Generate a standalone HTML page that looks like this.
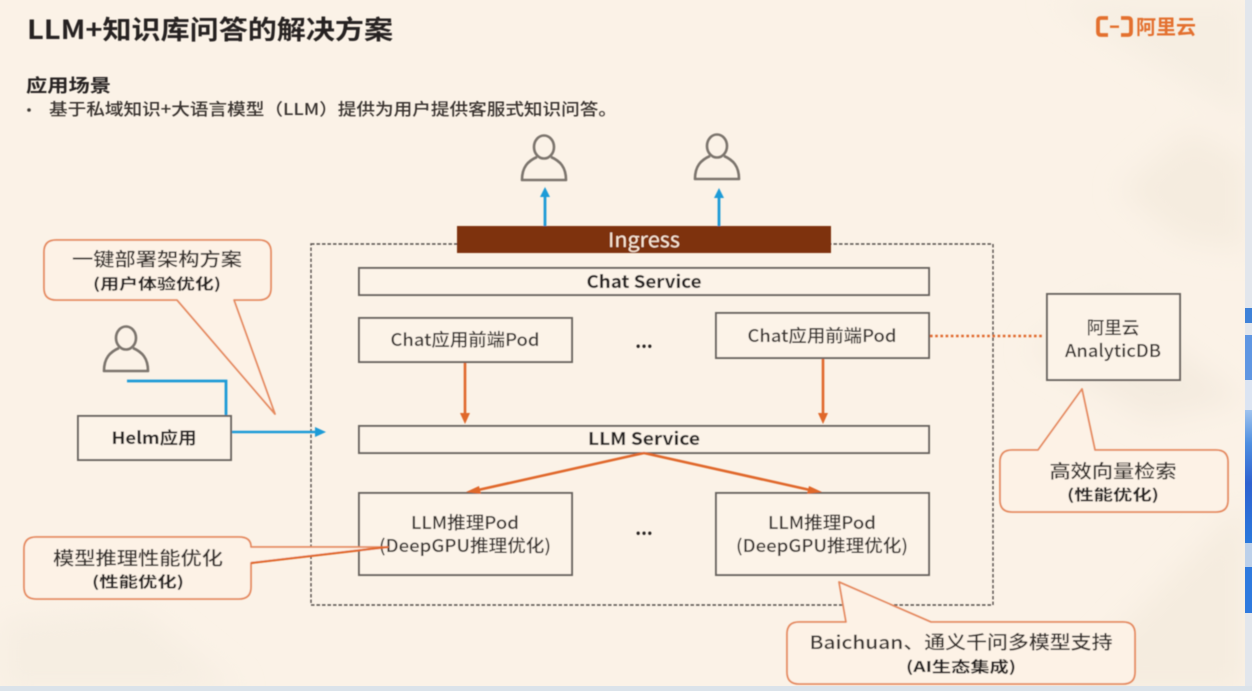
<!DOCTYPE html>
<html lang="zh">
<head>
<meta charset="utf-8">
<style>
html,body{margin:0;padding:0;background:#fbf2e7;width:1252px;height:691px;overflow:hidden}
svg{display:block}
text{font-family:"Noto Sans CJK SC","Liberation Sans",sans-serif;fill:#37332f;font-weight:500}
text.b{font-weight:700;fill:#262320}
.box{fill:#fcf3e8;stroke:#6a6560;stroke-width:2}
.call{fill:#fdf2e6;stroke:#e58a5e;stroke-width:1.8;stroke-linejoin:round}
.p{fill:none;stroke:#7b746d;stroke-width:2.6;stroke-linejoin:round}
</style>
</head>
<body>
<svg width="1252" height="691" viewBox="0 0 1252 691" xmlns="http://www.w3.org/2000/svg">
<defs>
<filter id="s" x="-2%" y="-2%" width="104%" height="104%"><feGaussianBlur stdDeviation="0.45"/></filter>
<filter id="bg" x="-20%" y="-20%" width="140%" height="140%"><feGaussianBlur stdDeviation="14"/></filter>
<linearGradient id="strip" x1="0" y1="0" x2="0" y2="1">
<stop offset="0" stop-color="#9fc3ee"/><stop offset="0.25" stop-color="#4f8fe0"/><stop offset="0.55" stop-color="#2f62d0"/><stop offset="1" stop-color="#2a78dc"/>
</linearGradient>
<g id="person">
<ellipse class="p" cx="0" cy="-21" rx="10" ry="11.5"/>
<path class="p" d="M-7 -11 C-16 -7 -22 -1 -22 12 H22 C22 -1 16 -7 7 -11"/>
</g>
</defs>
<rect width="1252" height="691" fill="#fbf2e7"/>
<g filter="url(#bg)">
<path d="M1120 190 L1190 130 L1246 160 L1246 250 L1180 240Z" fill="#f5ecdf"/>
<path d="M1030 350 L1110 300 L1246 400 L1150 420Z" fill="#f4ebdf"/>
<path d="M1060 691 L1246 500 L1246 691Z" fill="#f5ecdf"/>
<path d="M1050 0 H1246 V120 Z" fill="#f6eee2"/>
<path d="M0 620 L140 610 L240 691 H0Z" fill="#f6eee2"/>
</g>
<rect x="1245" y="0" width="7" height="691" fill="#e2e6ec"/>
<rect x="1245" y="308" width="7" height="15" fill="#3f82d8"/>
<rect x="1245" y="335" width="7" height="45" fill="#5f96e2"/>
<rect x="1245" y="380" width="7" height="30" fill="#dbe4f2"/>
<rect x="1245" y="410" width="7" height="133" fill="url(#strip)"/>
<rect x="1245" y="543" width="7" height="24" fill="#bcd0ea"/>
<rect x="1245" y="567" width="7" height="46" fill="#2f7ade"/>
<rect x="0" y="686" width="1252" height="5" fill="#dbe3ea"/>

<g filter="url(#s)">
<!-- Header -->
<text x="27" y="39" font-size="26" class="b" textLength="366" lengthAdjust="spacingAndGlyphs">LLM+知识库问答的解决方案</text>
<text x="26" y="92" font-size="18" class="b" textLength="85" lengthAdjust="spacingAndGlyphs">应用场景</text>
<circle cx="29" cy="110" r="1.8" fill="#3f3a36"/>
<text x="49" y="115" font-size="16.5" textLength="568" lengthAdjust="spacingAndGlyphs">基于私域知识+大语言模型（LLM）提供为用户提供客服式知识问答。</text>
<!-- Logo -->
<path d="M1108 18 H1101 Q1098 18 1098 21 V32 Q1098 35 1101 35 H1108 M1121 18 H1128 Q1131 18 1131 21 V32 Q1131 35 1128 35 H1121" fill="none" stroke="#e3702f" stroke-width="3.8"/>
<rect x="1110" y="25.5" width="9" height="2.4" fill="#e3702f"/>
<text x="1136" y="34" font-size="20" font-weight="700" style="fill:#e3702f;font-weight:700" textLength="60" lengthAdjust="spacing">阿里云</text>

<!-- Dashed frame -->
<rect x="311" y="244" width="682" height="361" fill="none" stroke="#55504b" stroke-width="1.4" stroke-dasharray="3.5 2"/>

<!-- Persons -->
<use href="#person" x="544" y="168"/>
<use href="#person" x="717" y="167"/>
<use href="#person" x="126" y="359"/>

<!-- Blue arrows -->
<path d="M545 227 V195 M719 227 V195" stroke="#1f9bd7" stroke-width="2.8" fill="none"/>
<path d="M545 187 L550 197 H540Z M719 188 L724 198 H714Z" fill="#1f9bd7"/>
<path d="M127 381 H226 V416" stroke="#1f9bd7" stroke-width="2.8" fill="none"/>
<path d="M231 432 H316" stroke="#1f9bd7" stroke-width="2.6" fill="none"/>
<path d="M326 432 L315 427 V437Z" fill="#1f9bd7"/>

<!-- Ingress -->
<rect x="457" y="226" width="374" height="27" fill="#7e3308"/>
<text x="644" y="247" font-size="20" text-anchor="middle" style="fill:#fbe9d8;font-weight:400" textLength="72" lengthAdjust="spacingAndGlyphs">Ingress</text>

<!-- Boxes -->
<rect class="box" x="359" y="268" width="570" height="27"/>
<text x="644" y="288" font-size="17.5" class="b" text-anchor="middle" textLength="115" lengthAdjust="spacingAndGlyphs">Chat Service</text>

<rect class="box" x="359" y="318" width="213" height="44"/>
<text x="465" y="346" font-size="17.5" text-anchor="middle" textLength="149" lengthAdjust="spacingAndGlyphs">Chat应用前端Pod</text>
<rect class="box" x="716" y="313" width="213" height="45"/>
<text x="822" y="342" font-size="17.5" text-anchor="middle" textLength="149" lengthAdjust="spacingAndGlyphs">Chat应用前端Pod</text>
<text x="644" y="348" font-size="18" class="b" text-anchor="middle">...</text>

<rect class="box" x="359" y="426" width="570" height="27"/>
<text x="644" y="445" font-size="17.5" class="b" text-anchor="middle" textLength="112" lengthAdjust="spacingAndGlyphs">LLM Service</text>

<rect class="box" x="359" y="493" width="213" height="82"/>
<text x="465" y="529" font-size="17.5" text-anchor="middle" textLength="108" lengthAdjust="spacingAndGlyphs">LLM推理Pod</text>
<text x="465" y="552" font-size="17.5" text-anchor="middle" textLength="172" lengthAdjust="spacingAndGlyphs">(DeepGPU推理优化)</text>
<rect class="box" x="716" y="493" width="213" height="82"/>
<text x="822" y="529" font-size="17.5" text-anchor="middle" textLength="108" lengthAdjust="spacingAndGlyphs">LLM推理Pod</text>
<text x="822" y="552" font-size="17.5" text-anchor="middle" textLength="172" lengthAdjust="spacingAndGlyphs">(DeepGPU推理优化)</text>
<text x="644" y="535" font-size="18" class="b" text-anchor="middle">...</text>

<rect class="box" x="1047" y="294" width="133" height="86"/>
<text x="1113" y="334" font-size="17.5" text-anchor="middle">阿里云</text>
<text x="1113" y="357" font-size="17.5" text-anchor="middle" textLength="96" lengthAdjust="spacingAndGlyphs">AnalyticDB</text>

<rect class="box" x="78" y="416" width="153" height="44"/>
<text x="154" y="444" font-size="17" class="b" text-anchor="middle" textLength="85" lengthAdjust="spacingAndGlyphs">Helm应用</text>

<!-- Orange connectors -->
<path d="M465 363 V415 M823 359 V415 M644 453 L478 490 M644 453 L810 490" stroke="#e0672c" stroke-width="2.6" fill="none"/>
<path d="M465 424 L460 413 H470Z M823 424 L818 413 H828Z M466 492 L479 486 L481 494Z M822 492 L809 486 L807 494Z" fill="#e0672c"/>
<path d="M930 336 H1044" stroke="#e0672c" stroke-width="2.4" stroke-dasharray="2.6 2.6" fill="none"/>

<!-- Callouts -->
<path class="call" d="M56 240 H259 Q271 240 271 252 V288 Q271 300 259 300 H234 L275 414 L177 300 H56 Q44 300 44 288 V252 Q44 240 56 240Z"/>
<text x="157" y="266" font-size="18.5" text-anchor="middle" textLength="170" lengthAdjust="spacingAndGlyphs">一键部署架构方案</text>
<text x="157" y="289" font-size="15" class="b" text-anchor="middle" textLength="128" lengthAdjust="spacingAndGlyphs">(用户体验优化)</text>

<path class="call" d="M36 537 H239 Q251 537 251 547 L388 547 L251 563 V587 Q251 599 239 599 H36 Q24 599 24 587 V549 Q24 537 36 537Z"/>
<path d="M251 563 L388 547" stroke="#e0672c" stroke-width="2.2" fill="none"/>
<text x="138" y="565" font-size="18.5" text-anchor="middle" textLength="170" lengthAdjust="spacingAndGlyphs">模型推理性能优化</text>
<text x="138" y="587" font-size="15" class="b" text-anchor="middle" textLength="92" lengthAdjust="spacingAndGlyphs">(性能优化)</text>

<path class="call" d="M1012 450 H1038 L1082 389 L1095 450 H1216 Q1228 450 1228 462 V500 Q1228 512 1216 512 H1012 Q1000 512 1000 500 V462 Q1000 450 1012 450Z"/>
<text x="1113" y="478" font-size="18.5" text-anchor="middle" textLength="127" lengthAdjust="spacingAndGlyphs">高效向量检索</text>
<text x="1113" y="500" font-size="15" class="b" text-anchor="middle" textLength="92" lengthAdjust="spacingAndGlyphs">(性能优化)</text>

<path class="call" d="M799 622 H846 L839 582 L931 622 H1123 Q1135 622 1135 634 V672 Q1135 684 1123 684 H799 Q787 684 787 672 V634 Q787 622 799 622Z"/>
<text x="961" y="649" font-size="18.5" text-anchor="middle" textLength="303" lengthAdjust="spacingAndGlyphs">Baichuan、通义千问多模型支持</text>
<text x="961" y="672" font-size="15" class="b" text-anchor="middle" textLength="110" lengthAdjust="spacingAndGlyphs">(AI生态集成)</text>
</g>
</svg>
</body>
</html>
